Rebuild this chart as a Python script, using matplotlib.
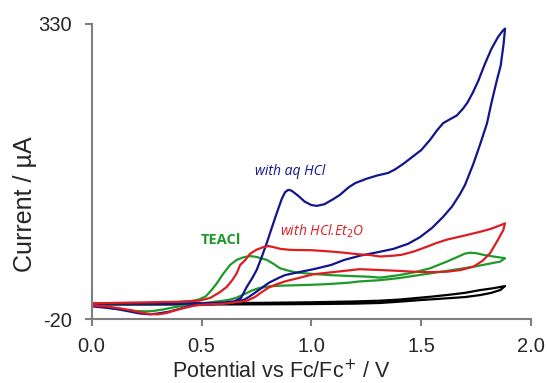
import matplotlib
matplotlib.use("Agg")
import matplotlib.pyplot as plt

# Cyclic voltammograms: potential (V vs Fc/Fc+) and current (uA), forward then reverse sweep
blank_x = [0.00, 0.30, 0.60, 0.80, 1.00, 1.20, 1.313, 1.40, 1.464, 1.54, 1.617, 1.70, 1.77, 1.83, 1.882,
           1.86, 1.82, 1.77, 1.70, 1.617, 1.50, 1.40, 1.313, 1.20, 1.00, 0.80, 0.50, 0.00]
blank_y = [-2.0, -1.8, -1.2, -0.8, -0.2, 0.8, 1.7, 3.0, 4.5, 6.3, 8.4, 11.0, 14.3, 16.5, 19.0,
           14.3, 11.0, 8.4, 6.0, 4.5, 2.5, 0.5, -1.0, -1.8, -2.3, -2.6, -2.8, -3.0]

teacl_x = [0.00, 0.10, 0.20, 0.30, 0.40, 0.46, 0.49, 0.52, 0.545, 0.569, 0.60, 0.63, 0.66, 0.69, 0.721,
           0.75, 0.797, 0.83, 0.858, 0.90, 0.934, 1.00, 1.085, 1.17, 1.267, 1.313, 1.40, 1.464, 1.54,
           1.617, 1.67, 1.70, 1.723, 1.75, 1.783, 1.83, 1.882,
           1.86, 1.80, 1.75, 1.692, 1.617, 1.54, 1.464, 1.40, 1.313, 1.22, 1.17, 1.085, 1.00, 0.934,
           0.86, 0.807, 0.76, 0.727, 0.70, 0.663, 0.63, 0.60, 0.53, 0.47, 0.42, 0.377, 0.33, 0.28,
           0.25, 0.20, 0.14, 0.06, 0.00]
teacl_y = [-3.0, -2.5, -2.0, -1.0, 0.0, 1.5, 3.3, 7.0, 14.0, 22.0, 34.0, 44.0, 50.0, 53.0, 54.6,
           53.5, 50.0, 45.0, 40.0, 37.0, 35.0, 33.5, 32.0, 31.0, 30.0, 29.0, 32.0, 35.0, 40.0,
           48.0, 54.0, 57.5, 58.5, 58.0, 56.0, 54.0, 52.0,
           48.0, 45.0, 42.5, 40.0, 37.0, 34.0, 31.0, 28.5, 26.0, 24.5, 23.0, 21.5, 20.5, 20.0,
           19.5, 18.6, 16.5, 13.5, 10.0, 5.6, 3.0, 1.7, -0.5, -2.3, -4.0, -6.0, -8.5, -10.5,
           -11.0, -10.5, -9.0, -6.0, -4.0]

aq_x = [0.00, 0.10, 0.20, 0.30, 0.40, 0.50, 0.60, 0.65, 0.68, 0.706, 0.73, 0.751, 0.775, 0.797, 0.82,
        0.842, 0.865, 0.88, 0.895, 0.91, 0.94, 0.97, 1.00, 1.025, 1.06, 1.10, 1.13, 1.17, 1.20, 1.25,
        1.30, 1.35, 1.38, 1.42, 1.46, 1.50, 1.54, 1.571, 1.60, 1.634, 1.662, 1.69, 1.71, 1.735, 1.76,
        1.79, 1.82, 1.85, 1.87, 1.882,
        1.875, 1.862, 1.844, 1.82, 1.80, 1.77, 1.738, 1.70, 1.677, 1.64, 1.60, 1.55, 1.495, 1.44,
        1.373, 1.30, 1.222, 1.15, 1.09, 1.01, 0.934, 0.88, 0.854, 0.807, 0.775, 0.743, 0.715, 0.695,
        0.66, 0.616, 0.55, 0.49, 0.44, 0.40, 0.35, 0.30, 0.266, 0.22, 0.17, 0.12, 0.06, 0.00]
aq_y = [-2.0, -2.0, -2.0, -2.0, -2.0, -1.5, -0.5, 1.0, 5.0, 18.0, 28.0, 38.0, 54.0, 70.0, 88.0,
        105.0, 122.0, 130.0, 133.0, 132.0, 126.0, 119.0, 115.0, 114.0, 116.0, 122.0, 127.0, 136.0, 141.0, 146.0,
        150.0, 153.0, 157.0, 164.0, 172.0, 180.0, 192.0, 203.0, 212.0, 217.0, 221.0, 229.0, 236.0, 248.0, 262.0,
        282.0, 300.0, 314.0, 321.0, 324.0,
        305.0, 280.0, 262.0, 236.0, 212.0, 188.0, 164.0, 139.0, 128.0, 113.0, 101.0, 88.0, 77.0, 69.0,
        63.0, 59.0, 55.0, 50.0, 44.0, 39.0, 35.0, 32.0, 29.0, 23.0, 17.0, 11.0, 6.0, 3.0,
        0.5, -1.0, -2.5, -3.0, -5.0, -8.0, -11.5, -13.5, -14.5, -13.5, -11.0, -8.5, -6.5, -5.0]

et2o_x = [0.00, 0.10, 0.20, 0.30, 0.40, 0.49, 0.54, 0.585, 0.615, 0.64, 0.66, 0.676, 0.70, 0.72, 0.75,
          0.78, 0.804, 0.83, 0.86, 0.90, 0.934, 1.00, 1.085, 1.15, 1.22, 1.267, 1.313, 1.373, 1.41,
          1.464, 1.52, 1.57, 1.617, 1.65, 1.70, 1.77, 1.82, 1.86, 1.882,
          1.874, 1.85, 1.814, 1.78, 1.738, 1.68, 1.617, 1.54, 1.464, 1.40, 1.313, 1.22, 1.15, 1.08,
          1.01, 0.95, 0.886, 0.84, 0.807, 0.775, 0.743, 0.71, 0.68, 0.60, 0.536, 0.47, 0.42, 0.377,
          0.34, 0.30, 0.26, 0.22, 0.186, 0.12, 0.06, 0.00]
et2o_y = [-1.5, -1.0, -0.5, 0.0, 0.5, 1.7, 5.0, 12.0, 18.0, 26.0, 34.0, 44.0, 50.0, 57.0, 62.0,
          65.0, 66.5, 65.0, 63.0, 62.0, 61.7, 61.5, 60.0, 58.5, 56.5, 55.8, 54.0, 55.0, 56.0,
          59.7, 65.0, 70.0, 74.0, 76.0, 79.0, 83.4, 87.0, 91.0, 93.3,
          85.4, 74.0, 58.0, 49.0, 42.0, 38.0, 36.0, 35.5, 36.0, 37.0, 38.0, 39.0, 37.0, 35.0,
          33.0, 29.0, 25.0, 21.0, 17.4, 12.0, 6.0, 2.0, 0.5, -2.0, -2.5, -4.0, -7.0, -10.0,
          -13.0, -14.5, -14.0, -12.0, -10.0, -7.0, -5.0, -4.0]

x_ticks = [0.0, 0.5, 1.0, 1.5, 2.0]
x_tick_labels = ["0.0", "0.5", "1.0", "1.5", "2.0"]
y_ticks = [-20, 330]
y_tick_labels = ["-20", "330"]

BLUE = "#14148c"
RED = "#dc1e23"
GREEN = "#1f9a2a"
AXIS_GREY = "#7f7f7f"
TEXT = "#262626"

plt.rcParams["font.family"] = ["Liberation Sans", "DejaVu Sans"]

fig = plt.figure(figsize=(5.47, 3.83), dpi=100)
ax = fig.add_axes([0.1676, 0.1671, 0.8031, 0.7715])

lw = 1.6
ax.plot(blank_x, blank_y, color="black", lw=lw, solid_joinstyle="round")
ax.plot(teacl_x, teacl_y, color=GREEN, lw=lw, solid_joinstyle="round")
ax.plot(aq_x, aq_y, color=BLUE, lw=lw, solid_joinstyle="round")
ax.plot(et2o_x, et2o_y, color=RED, lw=lw, solid_joinstyle="round")

ax.set_xlim(0, 2.0)
ax.set_ylim(-20, 330)
ax.set_xticks(x_ticks)
ax.set_xticklabels(x_tick_labels)
ax.set_yticks(y_ticks)
ax.set_yticklabels(y_tick_labels)

for side in ("top", "right"):
    ax.spines[side].set_visible(False)
for side in ("left", "bottom"):
    ax.spines[side].set_color(AXIS_GREY)
    ax.spines[side].set_linewidth(1.5)
ax.tick_params(axis="both", direction="out", length=5, width=1.5, color=AXIS_GREY,
               labelsize=14.5, labelcolor=TEXT)
ax.tick_params(axis="x", pad=8)
ax.tick_params(axis="y", pad=9)

ax.set_xlabel("Potential vs Fc/Fc$^{+}$ / V", fontsize=15.5, color=TEXT)
ax.xaxis.set_label_coords(0.431, -0.138)
ax.set_ylabel("Current / µA", fontsize=18, color=TEXT)
ax.yaxis.set_label_coords(-0.125, 0.389)

ax.text(0.903, 155, "with aq HCl", color=BLUE, fontsize=10, style="italic",
        family=["Open Sans", "DejaVu Sans"], ha="center", va="center")
ax.text(1.05, 84, "with HCl.Et$_{2}$O", color=RED, fontsize=10, style="italic",
        family=["Open Sans", "DejaVu Sans"], ha="center", va="center")
ax.text(0.588, 73.6, "TEACl", color=GREEN, fontsize=10.5, weight="bold",
        family=["Open Sans", "DejaVu Sans"], ha="center", va="center")

fig.savefig("out.png", dpi=100)
